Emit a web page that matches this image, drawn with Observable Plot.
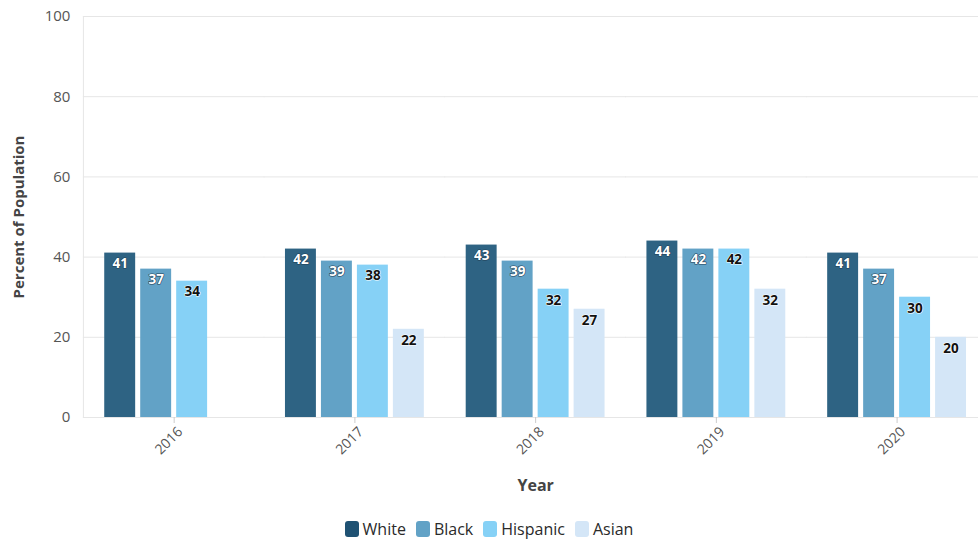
<!DOCTYPE html>
<html>
<head>
<meta charset="utf-8">
<script src="https://cdn.jsdelivr.net/npm/d3@7"></script>
<script src="https://cdn.jsdelivr.net/npm/@observablehq/plot@0.6"></script>
<style>
  html, body { margin: 0; padding: 0; background: #fff; }
  body { width: 978px; font-family: "Open Sans", sans-serif; }
  #legend { display: flex; justify-content: center; gap: 10px; font-size: 16px; color: #2a2a2a; margin-top: 13px; margin-left: 0px; }
  #legend .item { display: flex; align-items: center; gap: 4px; }
  #legend .sw { width: 14px; height: 16px; border-radius: 3px; display: inline-block; }
</style>
</head>
<body>
<div id="chart"></div>
<div id="legend"></div>
<script>
const years = ["2016", "2017", "2018", "2019", "2020"];
const races = ["White", "Black", "Hispanic", "Asian"];
const white = [41, 42, 43, 44, 41];
const black = [37, 39, 39, 42, 37];
const hispanic = [34, 38, 32, 42, 30];
const asian = [null, 22, 27, 32, 20];
const colors = ["#2e6383", "#62a2c6", "#86d1f6", "#d4e6f7"];
const labelColors = ["#ffffff", "#ffffff", "#111111", "#111111"];
const yTicks = [0, 20, 40, 60, 80, 100];

const series = [white, black, hispanic, asian];
const data = [];
years.forEach((yr, i) => {
  races.forEach((r, j) => {
    const v = series[j][i];
    if (v != null) data.push({year: yr, race: r, value: v});
  });
});
const lightLabels = data.filter(d => labelColors[races.indexOf(d.race)] === "#ffffff");
const darkLabels = data.filter(d => labelColors[races.indexOf(d.race)] !== "#ffffff");
const gap = 16.3;

const chart = Plot.plot({
  width: 978,
  height: 505,
  marginTop: 16,
  marginLeft: 83,
  marginRight: 0,
  marginBottom: 88,
  style: {fontFamily: "Open Sans, sans-serif", fontSize: "15px", background: "#fff", overflow: "visible"},
  fx: {domain: years, paddingInner: 0.176, paddingOuter: 0.064, align: 0.7, round: false, label: null, axis: null},
  x: {domain: races, padding: 0.14, round: false, axis: null},
  y: {domain: [0, 100], axis: null},
  color: {domain: races, range: colors},
  marks: [
    Plot.ruleY(yTicks, {stroke: "#e6e6e6", insetLeft: -gap, insetRight: -gap}),
    Plot.frame({anchor: "left", facetAnchor: "left", insetLeft: -gap, stroke: "#e6e6e6"}),
    Plot.axisY(yTicks, {tickSize: 0, tickPadding: 13 + gap, fill: "#555", fontSize: 15, label: null}),
    Plot.text(["Percent of Population"], {frameAnchor: "left", facetAnchor: "left", textAnchor: "middle", rotate: -90, dx: -81, fontWeight: "bold", fontSize: 15, fill: "#444"}),
    Plot.barY(data, {fx: "year", x: "race", y: "value", fill: "race"}),
    Plot.text(lightLabels, {fx: "year", x: "race", y: "value", text: d => String(d.value), dy: 11, fill: "#fff", stroke: "#1f3f55", strokeWidth: 1.2, fontWeight: "bold", fontSize: 13.5}),
    Plot.text(darkLabels, {fx: "year", x: "race", y: "value", text: d => String(d.value), dy: 11, fill: "#111", stroke: "#fff", strokeWidth: 1.2, fontWeight: "bold", fontSize: 13.5}),
    Plot.axisFx({anchor: "bottom", tickSize: 6, stroke: "#ccc", tickFormat: () => "", label: null}),
    Plot.axisFx({anchor: "bottom", tickRotate: -45, tickSize: 0, fill: "#555", fontSize: 14, tickPadding: 12, dx: 6, label: null}),
    Plot.axisFx([], {anchor: "bottom", tickSize: 0, label: "Year", labelArrow: "none", labelAnchor: "center", labelOffset: 73, fontWeight: "bold", fontSize: 16, fill: "#444"})
  ]
});
document.getElementById("chart").appendChild(chart);

const legend = document.getElementById("legend");
races.forEach((r, i) => {
  const item = document.createElement("span");
  item.className = "item";
  const sw = document.createElement("span");
  sw.className = "sw";
  sw.style.background = i === 0 ? "#1f5273" : colors[i];
  const t = document.createElement("span");
  t.textContent = r;
  item.appendChild(sw);
  item.appendChild(t);
  legend.appendChild(item);
});
</script>
</body>
</html>
